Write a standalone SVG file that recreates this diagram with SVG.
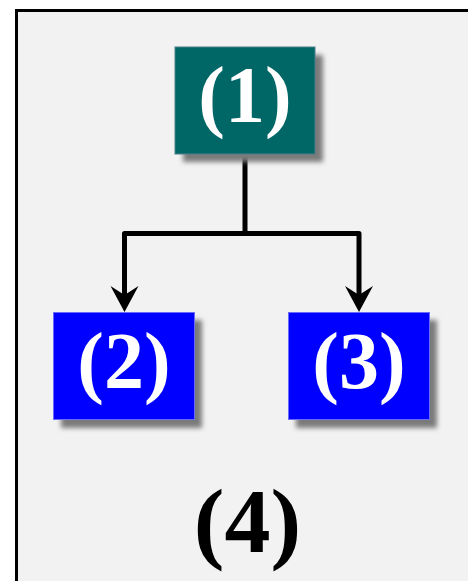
<svg xmlns="http://www.w3.org/2000/svg" width="468" height="581" viewBox="0 0 468 581">
<style>
.lbl{font-family:"Liberation Serif","Times New Roman",serif;font-weight:bold;text-anchor:middle;}
.node text{fill:#ffffff;font-size:80px;}
.conn{fill:none;stroke:#000;stroke-width:5;stroke-linejoin:round;marker-end:url(#ah);}
</style>
<defs>
<filter id="sh" x="-20%" y="-20%" width="150%" height="150%">
<feGaussianBlur stdDeviation="2.5"/>
</filter>
<marker id="ah" markerUnits="userSpaceOnUse" viewBox="-28 -15 30 30" refX="-12" refY="0" markerWidth="30" markerHeight="30" orient="auto" overflow="visible">
<path d="M0,0 L-26,-14 L-17,0 L-26,14 Z" fill="#000"/>
</marker>
</defs>
<rect x="0" y="0" width="468" height="581" fill="#ffffff"/>
<rect x="16.5" y="10.5" width="520" height="620" fill="#f2f2f2" stroke="#000" stroke-width="3"/>
<g id="connectors">
<path class="conn" d="M245,154 V233.5 H124.5 V300"/>
<path class="conn" d="M245,233.5 H359 V300"/>
</g>
<g id="node1" class="node">
<rect x="183" y="55" width="140" height="107" fill="#7a7a7a" filter="url(#sh)"/>
<rect x="175" y="47" width="140" height="107" fill="#006666" stroke="#4a7f8a" stroke-width="1"/>
<text class="lbl" x="245" y="122">(1)</text>
</g>
<g id="node2" class="node">
<rect x="61" y="320" width="141" height="108" fill="#7a7a7a" filter="url(#sh)"/>
<rect x="53.5" y="312.5" width="141" height="107" fill="#0000ff" stroke="#6a6aff" stroke-width="1"/>
<text class="lbl" x="124" y="388">(2)</text>
</g>
<g id="node3" class="node">
<rect x="296" y="320" width="141" height="108" fill="#7a7a7a" filter="url(#sh)"/>
<rect x="288.5" y="312.5" width="141" height="107" fill="#0000ff" stroke="#6a6aff" stroke-width="1"/>
<text class="lbl" x="359" y="388">(3)</text>
</g>
<g id="label4">
<text class="lbl" x="247.5" y="552" font-size="92" fill="#000">(4)</text>
</g>
</svg>
